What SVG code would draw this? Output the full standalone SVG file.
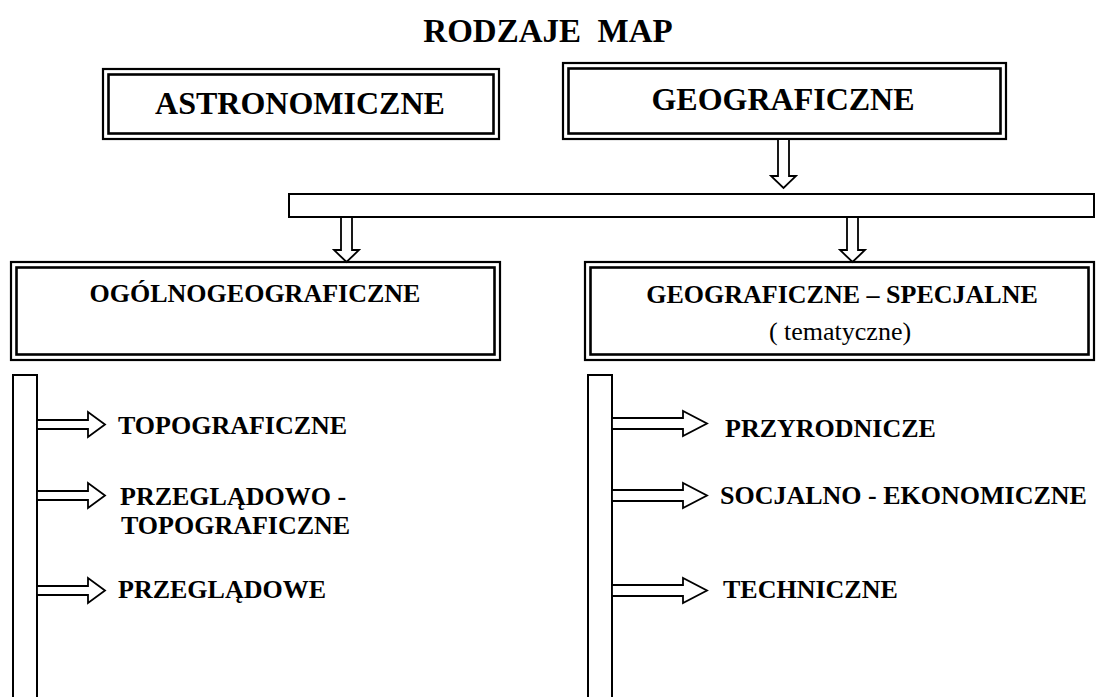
<svg xmlns="http://www.w3.org/2000/svg" width="1096" height="697" viewBox="0 0 1096 697">
<style>
.o{fill:none;stroke:#000;stroke-width:2.2}
.i{fill:none;stroke:#000;stroke-width:2.6}
.ln{fill:#fff;stroke:#000;stroke-width:2}
.ar{fill:#fff;stroke:#000;stroke-width:1.8;stroke-linejoin:miter}
text{font-family:'Liberation Serif','Times New Roman',Times,serif;fill:#000}
.t{font-weight:bold}
</style>
<rect width="1096" height="697" fill="#fff"/>
<text id="title" class="t" x="548" y="42" font-size="33" text-anchor="middle" xml:space="preserve">RODZAJE  MAP</text>
<g id="astronomiczne">
<rect class="o" x="103" y="69" width="396" height="70"/>
<rect class="i" x="108.5" y="74.5" width="385" height="59"/>
<text class="t" x="300" y="114" font-size="32" text-anchor="middle">ASTRONOMICZNE</text>
</g>
<g id="geograficzne">
<rect class="o" x="563" y="63" width="443" height="76"/>
<rect class="i" x="568.5" y="68.5" width="432" height="65"/>
<text class="t" x="783" y="110" font-size="32" text-anchor="middle">GEOGRAFICZNE</text>
</g>
<g id="bar">
<rect class="ln" x="289" y="194" width="805" height="23"/>
</g>
<g id="ogolnogeograficzne">
<rect class="o" x="11" y="262" width="489" height="98"/>
<rect class="i" x="16.5" y="267.5" width="478" height="87"/>
<text class="t" x="255" y="302" font-size="26" text-anchor="middle">OGÓLNOGEOGRAFICZNE</text>
</g>
<g id="specjalne">
<rect class="o" x="585" y="262" width="509" height="98"/>
<rect class="i" x="590.5" y="267.5" width="498" height="87"/>
<text class="t" x="842" y="303" font-size="26" text-anchor="middle">GEOGRAFICZNE – SPECJALNE</text>
<text x="840" y="340" font-size="26" text-anchor="middle">( tematyczne)</text>
</g>
<g id="left-list">
<rect class="ln" x="13" y="375" width="24" height="330"/>
<text class="t" x="118" y="434" font-size="26">TOPOGRAFICZNE</text>
<text class="t" x="120" y="505" font-size="26">PRZEGLĄDOWO -</text>
<text class="t" x="121" y="534" font-size="26">TOPOGRAFICZNE</text>
<text class="t" x="118" y="598" font-size="26">PRZEGLĄDOWE</text>
</g>
<g id="right-list">
<rect class="ln" x="588" y="375" width="24" height="330"/>
<text class="t" x="725" y="437" font-size="26">PRZYRODNICZE</text>
<text class="t" x="720" y="504" font-size="26">SOCJALNO - EKONOMICZNE</text>
<text class="t" x="723" y="598" font-size="26">TECHNICZNE</text>
</g>
<g id="connectors">
<polygon class="ar" points="778,139 789,139 789,176 796,176 783.5,188 771,176 778,176"/>
<polygon class="ar" points="341,217 352,217 352,250 359,250 346.5,262 334,250 341,250"/>
<polygon class="ar" points="847,217 858,217 858,250 865,250 852.5,262 840,250 847,250"/>
<polygon class="ar" points="37,420 88,420 88,412 105,424.5 88,437 88,429 37,429"/>
<polygon class="ar" points="37,491 88,491 88,483 105,495.5 88,508 88,500 37,500"/>
<polygon class="ar" points="37,586 88,586 88,578 105,590.5 88,603 88,595 37,595"/>
<polygon class="ar" points="612,418 683,418 683,411 707,423.5 683,436 683,429 612,429"/>
<polygon class="ar" points="612,490 683,490 683,483 707,495.5 683,508 683,501 612,501"/>
<polygon class="ar" points="612,585 683,585 683,578 707,590.5 683,603 683,596 612,596"/>
</g>
</svg>
